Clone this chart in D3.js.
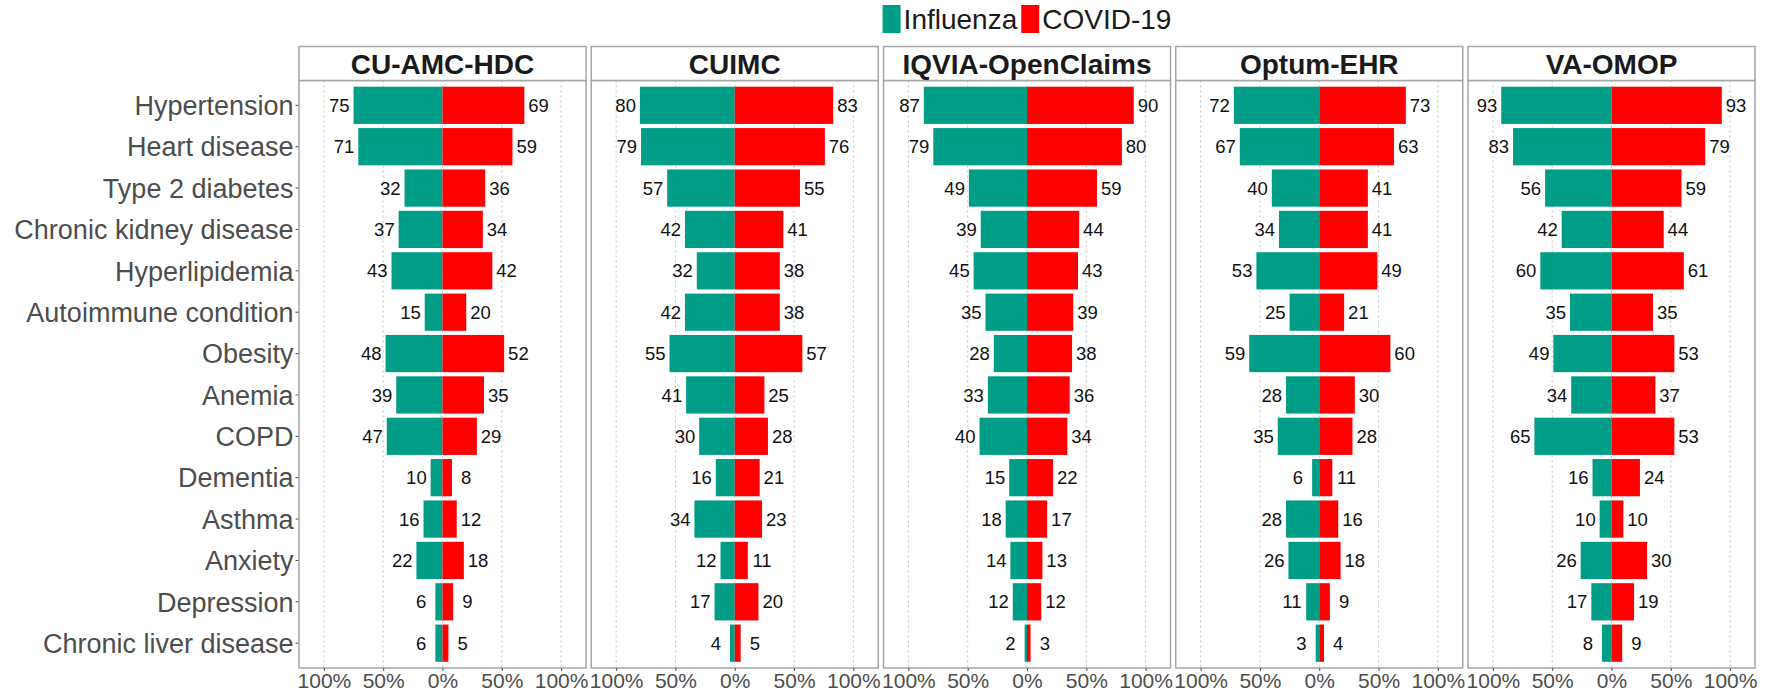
<!DOCTYPE html>
<html>
<head>
<meta charset="utf-8">
<script src="https://cdn.jsdelivr.net/npm/d3@7"></script>
<style>
  body { margin: 0; background: #fff; }
  text { font-family: "Liberation Sans", Arial, sans-serif; }
</style>
</head>
<body>
<svg id="chart" width="1776" height="695"></svg>
<script>
(() => {
  const categories = [
    "Hypertension", "Heart disease", "Type 2 diabetes", "Chronic kidney disease",
    "Hyperlipidemia", "Autoimmune condition", "Obesity", "Anemia", "COPD",
    "Dementia", "Asthma", "Anxiety", "Depression", "Chronic liver disease",
  ];
  const sites = ["CU-AMC-HDC", "CUIMC", "IQVIA-OpenClaims", "Optum-EHR", "VA-OMOP"];
  const seriesNames = ["Influenza", "COVID-19"];

  // percent of patients
  const fluCuAmc = [75, 71, 32, 37, 43, 15, 48, 39, 47, 10, 16, 22, 6, 6];
  const covidCuAmc = [69, 59, 36, 34, 42, 20, 52, 35, 29, 8, 12, 18, 9, 5];
  const fluCuimc = [80, 79, 57, 42, 32, 42, 55, 41, 30, 16, 34, 12, 17, 4];
  const covidCuimc = [83, 76, 55, 41, 38, 38, 57, 25, 28, 21, 23, 11, 20, 5];
  const fluIqvia = [87, 79, 49, 39, 45, 35, 28, 33, 40, 15, 18, 14, 12, 2];
  const covidIqvia = [90, 80, 59, 44, 43, 39, 38, 36, 34, 22, 17, 13, 12, 3];
  const fluOptum = [72, 67, 40, 34, 53, 25, 59, 28, 35, 6, 28, 26, 11, 3];
  const covidOptum = [73, 63, 41, 41, 49, 21, 60, 30, 28, 11, 16, 18, 9, 4];
  const fluVa = [93, 83, 56, 42, 60, 35, 49, 34, 65, 16, 10, 26, 17, 8];
  const covidVa = [93, 79, 59, 44, 61, 35, 53, 37, 53, 24, 10, 30, 19, 9];

  const tickValues = [-1, -0.5, 0, 0.5, 1];
  const tickLabels = ["100%", "50%", "0%", "50%", "100%"];

  const fluSeries = [fluCuAmc, fluCuimc, fluIqvia, fluOptum, fluVa];
  const covidSeries = [covidCuAmc, covidCuimc, covidIqvia, covidOptum, covidVa];

  const colors = { "Influenza": "#009E87", "COVID-19": "#FF0000" };

  const panelLeft = 299, panelW = 287, gap = 5.25;
  const stripTop = 46.5, panelTop = 80.5, panelBottom = 668;
  const border = "#a6a6a6";

  const svg = d3.select("#chart");

  const y = d3.scalePoint().domain(categories).range([panelTop, panelBottom]).padding(0.6);
  const barH = y.step() * 0.9;

  // y axis labels (left of first panel)
  const yAxis = svg.append("g").attr("class", "y-axis");
  yAxis.selectAll("text")
    .data(categories)
    .enter()
    .append("text")
    .attr("x", 293.5)
    .attr("y", (d) => y(d))
    .attr("dy", "0.36em")
    .attr("text-anchor", "end")
    .style("font-size", "27px")
    .style("fill", "#4d4d4d")
    .text((d) => d);
  yAxis.selectAll("line")
    .data(categories)
    .enter()
    .append("line")
    .attr("x1", panelLeft - 3.5)
    .attr("x2", panelLeft)
    .attr("y1", (d) => y(d))
    .attr("y2", (d) => y(d))
    .style("stroke", "#4d4d4d")
    .style("stroke-width", 1);

  sites.forEach((site, i) => {
    const left = panelLeft + i * (panelW + gap);
    const x = d3.scaleLinear().domain([-1.21, 1.21]).range([left, left + panelW]);
    const rows = categories.map((c, j) => ({
      cat: c,
      flu: fluSeries[i][j] / 100,
      covid: covidSeries[i][j] / 100,
    }));

    const g = svg.append("g").attr("class", "panel");

    g.append("rect")
      .attr("x", left).attr("y", panelTop)
      .attr("width", panelW).attr("height", panelBottom - panelTop)
      .style("fill", "#fff");

    g.selectAll(".grid")
      .data(tickValues)
      .enter()
      .append("line")
      .attr("class", "grid")
      .attr("x1", (d) => x(d)).attr("x2", (d) => x(d))
      .attr("y1", panelTop).attr("y2", panelBottom)
      .style("stroke", "#c4c4c4")
      .style("stroke-width", 1)
      .style("stroke-dasharray", "2,3");

    g.selectAll(".flu")
      .data(rows)
      .enter()
      .append("rect")
      .attr("class", "flu")
      .attr("x", (d) => x(-d.flu))
      .attr("y", (d) => y(d.cat) - barH / 2)
      .attr("width", (d) => x(0) - x(-d.flu))
      .attr("height", barH)
      .style("fill", colors["Influenza"]);

    g.selectAll(".covid")
      .data(rows)
      .enter()
      .append("rect")
      .attr("class", "covid")
      .attr("x", x(0))
      .attr("y", (d) => y(d.cat) - barH / 2)
      .attr("width", (d) => x(d.covid) - x(0))
      .attr("height", barH)
      .style("fill", colors["COVID-19"]);

    g.selectAll(".flu-label")
      .data(rows)
      .enter()
      .append("text")
      .attr("x", (d) => x(-(d.flu + 0.12)))
      .attr("y", (d) => y(d.cat))
      .attr("dy", "0.36em")
      .attr("text-anchor", "middle")
      .style("font-size", "18.5px")
      .style("fill", "#111")
      .text((d) => Math.round(d.flu * 100));

    g.selectAll(".covid-label")
      .data(rows)
      .enter()
      .append("text")
      .attr("x", (d) => x(d.covid + 0.12))
      .attr("y", (d) => y(d.cat))
      .attr("dy", "0.36em")
      .attr("text-anchor", "middle")
      .style("font-size", "18.5px")
      .style("fill", "#111")
      .text((d) => Math.round(d.covid * 100));

    g.append("rect")
      .attr("x", left).attr("y", panelTop)
      .attr("width", panelW).attr("height", panelBottom - panelTop)
      .style("fill", "none")
      .style("stroke", border)
      .style("stroke-width", 1.5);

    // strip
    g.append("rect")
      .attr("x", left).attr("y", stripTop)
      .attr("width", panelW).attr("height", panelTop - stripTop)
      .style("fill", "#fff")
      .style("stroke", border)
      .style("stroke-width", 1.5);
    g.append("text")
      .attr("x", left + panelW / 2)
      .attr("y", (stripTop + panelTop) / 2)
      .attr("dy", "0.36em")
      .attr("text-anchor", "middle")
      .style("font-size", "28px")
      .style("font-weight", "bold")
      .style("fill", "#1a1a1a")
      .text(site);

    const axis = d3.axisBottom(x)
      .tickValues(tickValues)
      .tickFormat((d, k) => tickLabels[k])
      .tickSize(3)
      .tickPadding(2);
    const ax = svg.append("g")
      .attr("transform", `translate(0,${panelBottom})`)
      .call(axis);
    ax.select(".domain").remove();
    ax.selectAll("line").style("stroke", "#4d4d4d");
    ax.selectAll("text")
      .style("font-size", "21px")
      .style("fill", "#4d4d4d")
      .style("font-family", '"Liberation Sans", Arial, sans-serif');
  });

  // legend, centred over the panels
  const legend = svg.append("g").attr("class", "legend");
  const items = legend.selectAll("g")
    .data(seriesNames)
    .enter()
    .append("g");
  items.append("rect")
    .attr("width", 18).attr("height", 28)
    .attr("y", 5)
    .style("fill", (d) => colors[d]);
  items.append("text")
    .attr("x", 21)
    .attr("y", 19)
    .attr("dy", "0.36em")
    .style("font-size", "28px")
    .style("fill", "#1a1a1a")
    .text((d) => d);
  let offset = 0;
  const widths = [];
  items.each(function () {
    widths.push(18 + 3 + this.querySelector("text").getComputedTextLength());
  });
  const total = d3.sum(widths) + 4;
  const center = panelLeft + (5 * panelW + 4 * gap) / 2;
  items.attr("transform", (d, k) => {
    const tx = center - total / 2 + offset;
    offset += widths[k] + 4;
    return `translate(${tx},0)`;
  });
})();
</script>
</body>
</html>
